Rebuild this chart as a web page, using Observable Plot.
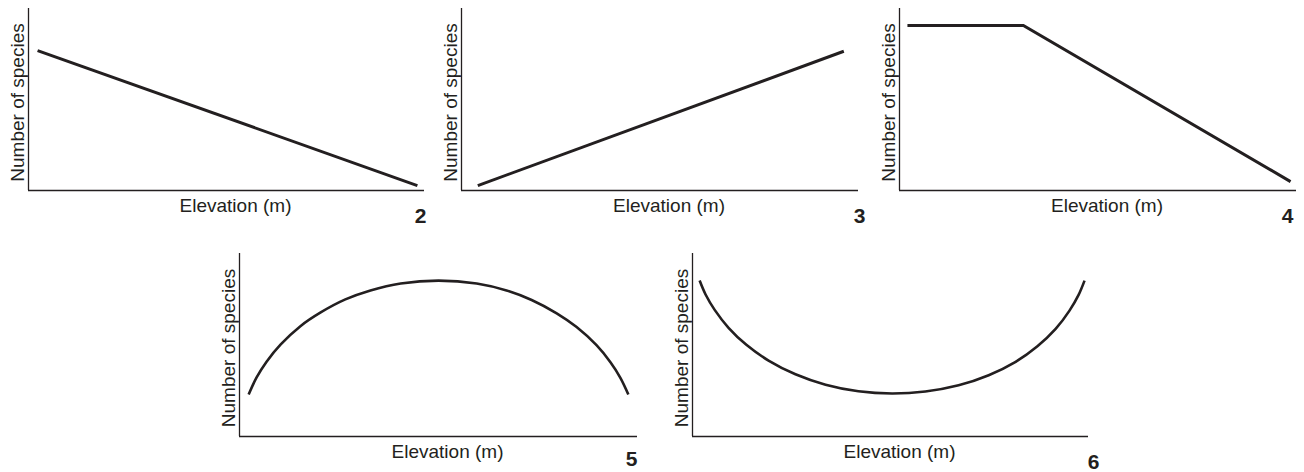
<!DOCTYPE html>
<html>
<head>
<meta charset="utf-8">
<script src="https://cdn.jsdelivr.net/npm/d3@7"></script>
<script src="https://cdn.jsdelivr.net/npm/@observablehq/plot@0.6"></script>
<style>
  html, body { margin: 0; padding: 0; background: #ffffff; }
  #chart { position: relative; width: 1304px; height: 472px; overflow: hidden; background: #ffffff; }
  #chart .panel { position: absolute; }
  #chart .panel svg { max-width: none !important; display: block; }
</style>
</head>
<body>
<div id="chart"></div>
<script>
// ---- Data (elevation 0–100, number of species 0–100, arbitrary units) ----
const panelIds = ["2", "3", "4", "5", "6"];
const xLabel = "Elevation (m)";
const yLabel = "Number of species";

// Panel 2: linear decrease
const elev2 = [2.3, 98.2];
const spp2 = [76.9, 2.7];

// Panel 3: linear increase
const elev3 = [4.1, 96.3];
const spp3 = [2.7, 76.5];

// Panel 4: plateau then decrease
const elev4 = [2.0, 31.2, 98.5];
const spp4 = [90.7, 90.7, 4.9];

// Panel 5: hump-shaped
const elev5 = [2.3, 4.3, 6.8, 10.3, 15.3, 20.4, 26.6, 32.9, 40.5, 50.0, 59.6, 67.1, 73.4, 79.7, 84.7, 89.7, 93.2, 95.7, 97.7];
const spp5 = [23.0, 32.3, 40.9, 50.2, 60.3, 67.8, 74.9, 79.8, 83.6, 85.2, 83.6, 79.8, 74.6, 67.3, 59.8, 49.9, 40.6, 32.1, 23.0];

// Panel 6: U-shaped
const elev6 = [1.8, 3.3, 5.6, 9.1, 13.6, 19.2, 26.0, 33.6, 41.9, 50.4, 58.8, 67.2, 74.8, 81.6, 87.1, 91.7, 95.2, 97.5, 99.0];
const spp6 = [85.2, 77.6, 69.2, 59.4, 50.1, 41.5, 34.0, 28.3, 24.7, 23.5, 24.6, 28.0, 33.5, 40.8, 49.3, 58.8, 68.8, 77.4, 85.2];

const series = {
  "2": {elev: elev2, spp: spp2, curve: "linear"},
  "3": {elev: elev3, spp: spp3, curve: "linear"},
  "4": {elev: elev4, spp: spp4, curve: "linear"},
  "5": {elev: elev5, spp: spp5, curve: "catmull-rom"},
  "6": {elev: elev6, spp: spp6, curve: "catmull-rom"}
};

// ---- Layout (pixel positions of each panel's axes) ----
const layout = {
  "2": {axisX: 28,  axisTop: 8,   w: 396, h: 182, numDx: 2,  numDy: 32, lw: 3},
  "3": {axisX: 461, axisTop: 8,   w: 397, h: 182, numDx: 7,  numDy: 32, lw: 3},
  "4": {axisX: 899, axisTop: 8,   w: 397, h: 182, numDx: -3, numDy: 32, lw: 3},
  "5": {axisX: 239, axisTop: 253, w: 398, h: 183, numDx: 0,  numDy: 29, lw: 2.6},
  "6": {axisX: 692, axisTop: 253, w: 396, h: 183, numDx: 11, numDy: 32, lw: 2.6}
};

const ink = "#231f20";
const mL = 30, mT = 5, mR = 16, mB = 40;
const chart = document.getElementById("chart");

for (const id of panelIds) {
  const s = series[id];
  const L = layout[id];
  const rows = s.elev.map((e, i) => ({elev: e, spp: s.spp[i]}));
  const W = mL + L.w + mR, H = mT + L.h + mB;

  const svg = Plot.plot({
    width: W,
    height: H,
    marginLeft: mL,
    marginTop: mT,
    marginRight: mR,
    marginBottom: mB,
    x: {domain: [0, 100], axis: null},
    y: {domain: [0, 100], axis: null},
    style: {
      background: "transparent",
      overflow: "visible",
      fontFamily: "'Liberation Sans', Arial, Helvetica, sans-serif",
      color: ink
    },
    marks: [
      Plot.ruleX([0], {stroke: ink, strokeWidth: 1.3}),
      Plot.ruleY([0], {stroke: ink, strokeWidth: 1.3}),
      Plot.line(rows, {
        x: "elev", y: "spp", curve: s.curve,
        stroke: ink, strokeWidth: L.lw,
        strokeLinecap: "butt", strokeLinejoin: "miter", strokeMiterlimit: 4
      }),
      Plot.text([xLabel], {
        text: d => d, frameAnchor: "bottom", textAnchor: "middle", lineAnchor: "bottom",
        dx: 9, dy: 21.5, fontSize: 19, fill: ink
      }),
      Plot.text([yLabel], {
        text: d => d, frameAnchor: "left", textAnchor: "middle", lineAnchor: "bottom",
        rotate: -90, dx: -5, dy: 3, fontSize: 19, fill: ink
      }),
      Plot.text([id], {
        text: d => d, frameAnchor: "bottom-right", textAnchor: "end", lineAnchor: "bottom",
        dx: L.numDx, dy: L.numDy, fontSize: 21, fontWeight: "bold", fill: ink
      })
    ]
  });

  const holder = document.createElement("div");
  holder.className = "panel";
  holder.style.left = (L.axisX - mL) + "px";
  holder.style.top = (L.axisTop - mT) + "px";
  holder.style.width = W + "px";
  holder.style.height = H + "px";
  holder.appendChild(svg);
  chart.appendChild(holder);
}
</script>
</body>
</html>
